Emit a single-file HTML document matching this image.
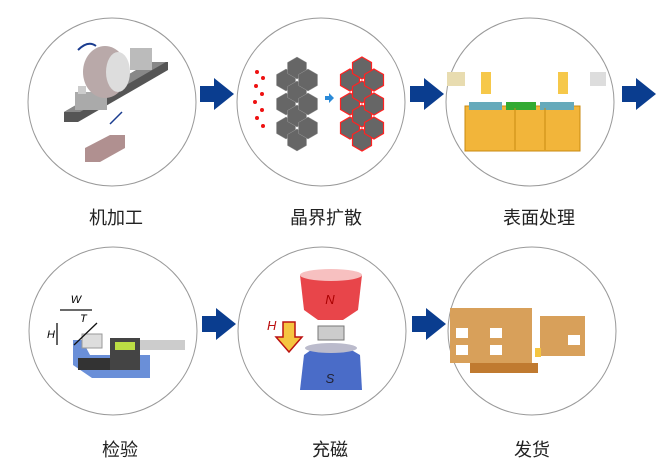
<!DOCTYPE html>
<html><head><meta charset="utf-8"><style>
html,body{margin:0;padding:0;background:#fff;width:671px;height:461px;overflow:hidden}
svg{display:block}
text.l{font-family:"Liberation Sans","Noto Sans CJK SC",sans-serif;font-size:18px;fill:#222;text-anchor:middle}
</style></head><body>
<svg width="671" height="461" viewBox="0 0 671 461" xmlns="http://www.w3.org/2000/svg">
<defs>
<path id="arr" d="M0,8 H14 V0 L34,16 L14,32 V24 H0 Z" fill="#0a3d8f"/>
<polygon id="hx" points="0,-11 9.5,-5.5 9.5,5.5 0,11 -9.5,5.5 -9.5,-5.5" fill="#666" />
</defs>
<g fill="none" stroke="#999" stroke-width="1">
<ellipse cx="112" cy="102" rx="84" ry="84"/>
<ellipse cx="321" cy="102" rx="84" ry="84"/>
<ellipse cx="530" cy="102" rx="84" ry="84"/>
<ellipse cx="113" cy="331" rx="84" ry="84"/>
<ellipse cx="322" cy="331" rx="84" ry="84"/>
<ellipse cx="532" cy="331" rx="84" ry="84"/>
</g>
<use href="#arr" x="200" y="78"/><use href="#arr" x="410" y="78"/><use href="#arr" x="622" y="78"/>
<use href="#arr" x="202" y="308"/><use href="#arr" x="412" y="308"/>

<!-- machining -->
<polygon points="64,112 150,62 168,62 168,70 78,122 64,122" fill="#555"/>
<polygon points="64,112 150,62 166,62 80,112" fill="#888"/>
<rect x="75" y="92" width="32" height="18" fill="#aaa"/>
<ellipse cx="105" cy="72" rx="22" ry="26" fill="#b9a9a9"/>
<ellipse cx="118" cy="72" rx="12" ry="20" fill="#ddd"/>
<rect x="78" y="86" width="8" height="8" fill="#ccc"/>
<rect x="130" y="48" width="22" height="22" fill="#bbb"/>
<polygon points="85,148 110,135 125,135 125,148 100,162 85,162" fill="#b09090"/>
<line x1="110" y1="124" x2="122" y2="112" stroke="#1a3c8f" stroke-width="1.5"/>
<path d="M78,50 Q88,40 96,46" stroke="#1a3c8f" stroke-width="2" fill="none"/>

<!-- diffusion -->
<g stroke="#999" stroke-width="0.5">
<use href="#hx" x="286" y="80"/><use href="#hx" x="286" y="104"/><use href="#hx" x="286" y="128"/>
<use href="#hx" x="297" y="68"/><use href="#hx" x="297" y="92"/><use href="#hx" x="297" y="116"/><use href="#hx" x="297" y="140"/>
<use href="#hx" x="308" y="80"/><use href="#hx" x="308" y="104"/><use href="#hx" x="308" y="128"/>
</g>
<g stroke="#f22" stroke-width="1.2">
<use href="#hx" x="350" y="80"/><use href="#hx" x="350" y="104"/><use href="#hx" x="350" y="128"/>
<use href="#hx" x="362" y="68"/><use href="#hx" x="362" y="92"/><use href="#hx" x="362" y="116"/><use href="#hx" x="362" y="140"/>
<use href="#hx" x="374" y="80"/><use href="#hx" x="374" y="104"/><use href="#hx" x="374" y="128"/>
</g>
<g fill="#e11"><circle cx="257" cy="72" r="2"/><circle cx="263" cy="78" r="2"/><circle cx="256" cy="86" r="2"/><circle cx="262" cy="94" r="2"/><circle cx="255" cy="102" r="2"/><circle cx="262" cy="110" r="2"/><circle cx="257" cy="118" r="2"/><circle cx="263" cy="126" r="2"/></g>
<path d="M325,96 h4 v-3 l5,5 -5,5 v-3 h-4z" fill="#2a8ad8"/>

<!-- surface -->
<rect x="465" y="106" width="115" height="45" fill="#f2b53a" stroke="#c88a10"/>
<rect x="469" y="102" width="33" height="8" fill="#6ab"/><rect x="506" y="102" width="30" height="8" fill="#3a3"/><rect x="540" y="102" width="34" height="8" fill="#6ab"/>
<line x1="515" y1="108" x2="515" y2="150" stroke="#c88a10"/><line x1="545" y1="108" x2="545" y2="150" stroke="#c88a10"/>
<rect x="481" y="72" width="10" height="22" fill="#f6c84a"/><rect x="558" y="72" width="10" height="22" fill="#f6c84a"/>
<rect x="447" y="72" width="18" height="14" fill="#e8dcb0"/><rect x="590" y="72" width="16" height="14" fill="#ddd"/>

<!-- inspection -->
<path d="M73,340 L73,365 L92,378 L150,378 L150,355 L90,355 L82,340Z" fill="#6a8fd8"/>
<rect x="78" y="358" width="40" height="12" fill="#333"/>
<rect x="110" y="338" width="30" height="32" fill="#444"/><rect x="115" y="342" width="20" height="8" fill="#bd4"/>
<rect x="140" y="340" width="45" height="10" fill="#ccc"/>
<rect x="82" y="334" width="20" height="14" fill="#ddd" stroke="#999"/>
<g stroke="#111" stroke-width="1.3" fill="none"><line x1="60" y1="310" x2="92" y2="310"/><line x1="57" y1="323" x2="57" y2="345"/><line x1="74" y1="345" x2="97" y2="323"/></g>
<text x="76" y="303" font-size="11" font-style="italic" font-family="Liberation Sans" text-anchor="middle">W</text>
<text x="47" y="338" font-size="11" font-style="italic" font-family="Liberation Sans">H</text>
<text x="80" y="322" font-size="11" font-style="italic" font-family="Liberation Sans">T</text>

<!-- magnetize -->
<path d="M300,275 L362,275 L358,310 L343,320 L318,320 L304,310Z" fill="#e8454a"/><ellipse cx="331" cy="275" rx="31" ry="6" fill="#f7c0c0"/>
<text x="330" y="304" font-size="13" font-style="italic" fill="#a00" font-family="Liberation Sans" text-anchor="middle">N</text>
<rect x="318" y="326" width="26" height="14" fill="#ccc" stroke="#777"/>
<path d="M304,355 L318,345 L343,345 L360,355 L362,390 L300,390Z" fill="#4a6cc8"/><ellipse cx="331" cy="348" rx="26" ry="5" fill="#bbc"/>
<text x="330" y="383" font-size="13" font-style="italic" fill="#223" font-family="Liberation Sans" text-anchor="middle">S</text>
<path d="M283,322 h12 v15 h7 l-13,15 -13,-15 h7z" fill="#f5c540" stroke="#b11" stroke-width="1.5"/>
<text x="267" y="330" font-size="13" font-style="italic" fill="#b11" font-family="Liberation Sans">H</text>

<!-- shipping -->
<rect x="450" y="308" width="82" height="55" fill="#d8a05a"/><rect x="470" y="363" width="68" height="10" fill="#c07a30"/>
<rect x="540" y="316" width="45" height="40" fill="#d8a05a"/><rect x="535" y="348" width="6" height="9" fill="#f5c540"/>
<g fill="#fff"><rect x="456" y="328" width="12" height="10"/><rect x="490" y="328" width="12" height="10"/><rect x="456" y="345" width="12" height="10"/><rect x="490" y="345" width="12" height="10"/><rect x="568" y="335" width="12" height="10"/></g>

<text class="l" x="116" y="224">机加工</text>
<text class="l" x="326" y="224">晶界扩散</text>
<text class="l" x="539" y="224">表面处理</text>
<text class="l" x="120" y="456">检验</text>
<text class="l" x="330" y="456">充磁</text>
<text class="l" x="532" y="456">发货</text>
</svg>
</body></html>
